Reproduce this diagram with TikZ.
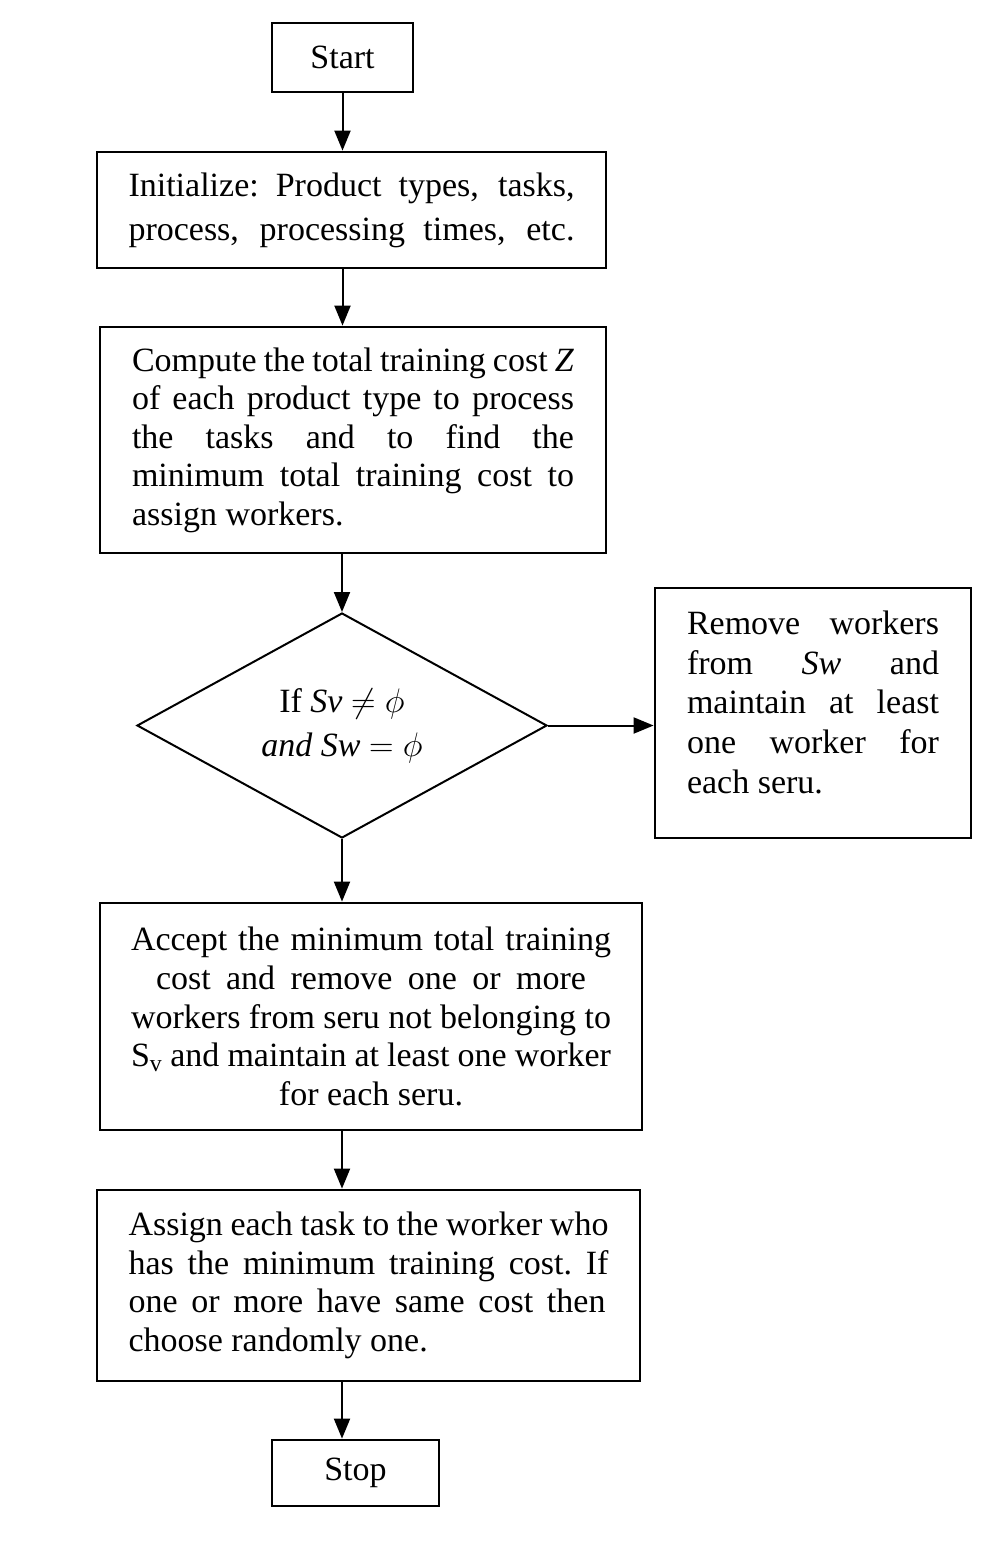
\RequirePackage{fix-cm}
\documentclass[tikz,border=0pt]{standalone}
\usepackage{fontspec}
\setmainfont{Liberation Serif}
\usetikzlibrary{shapes.geometric,arrows.meta}
% a line spread (or squeezed) to a given width
\newcommand{\jline}[2]{\hbox to #1{\spaceskip=.25em plus 1fil minus .22em\relax\xspaceskip=\spaceskip #2}}
\begin{document}
\begin{tikzpicture}[x=1pt,y=-1pt,
  box/.style={draw, line width=2.8pt, inner sep=0pt, align=left},
  txt/.style={font=\fontsize{34}{#1}\selectfont},
  txt/.default=38.5,
  flow/.style={line width=2pt, -{Triangle[length=20pt,width=16pt]}}]
  \fill[white] (0,0) rectangle (988,1550);
  \useasboundingbox (0,0) rectangle (988,1550);

  % process boxes
  \node[box, txt, minimum width=141pt, minimum height=69pt] (start) at (342.5,57.5) {Start};
  \node[box, txt=44, minimum width=509pt, minimum height=116pt] (init) at (351.5,210)
    {\jline{446pt}{Initialize: Product types, tasks,}\\\jline{446pt}{process, processing times, etc.}};
  \node[box, txt, minimum width=506pt, minimum height=226pt] (comp) at (353,440)
    {\jline{442pt}{Compute the total training cost \textit{Z}}\\
     \jline{442pt}{of each product type to process}\\
     \jline{442pt}{the tasks and to find the}\\
     \jline{442pt}{minimum total training cost to}\\
     assign workers.};

  % decision
  \node[draw, diamond, aspect=1.82, line width=2pt, inner sep=0pt, align=center, txt=44,
        minimum width=410pt, minimum height=225pt] (dec) at (342,725.5)
    {If \textit{Sv} $\neq\phi$\\\textit{and Sw} $=\phi$};

  % side branch; the strut at the end keeps the text towards the top
  \node[box, txt=39.7, minimum width=316pt, minimum height=250pt] (rbox) at (813,713)
    {\jline{252pt}{Remove workers}\\
     \jline{252pt}{from \textit{Sw} and}\\
     \jline{252pt}{maintain at least}\\
     \jline{252pt}{one worker for}\\
     each seru.\rule[-22pt]{0pt}{22pt}};

  \node[box, txt=38.75, minimum width=542pt, minimum height=227pt, align=center] (acc) at (371,1016.5)
    {\jline{480pt}{Accept the minimum total training}\\
     \jline{430pt}{cost and remove one or more}\\
     \jline{480pt}{workers from seru not belonging to}\\
     \jline{480pt}{S\textsubscript{v} and maintain at least one worker}\\
     for each seru.};
  \node[box, txt=38.7, minimum width=543pt, minimum height=191pt] (asg) at (368.5,1285.5)
    {\jline{480pt}{Assign each task to the worker who}\\
     \jline{480pt}{has the minimum training cost. If}\\
     \jline{477pt}{one or more have same cost then}\\
     choose randomly one.};
  \node[box, txt, minimum width=167pt, minimum height=66pt] (stop) at (355.5,1473) {Stop};

  % connectors
  \draw[flow] (start.south) -- (start.south |- init.north);
  \draw[flow] (start.south |- init.south) -- (start.south |- comp.north);
  \draw[flow] (dec.north |- comp.south) -- (dec.north);
  \draw[flow] (dec.east) -- (dec.east -| rbox.west);
  \draw[flow] (dec.south) -- (dec.south |- acc.north);
  \draw[flow] (dec.south |- acc.south) -- (dec.south |- asg.north);
  \draw[flow] (dec.south |- asg.south) -- (dec.south |- stop.north);
\end{tikzpicture}
\end{document}
